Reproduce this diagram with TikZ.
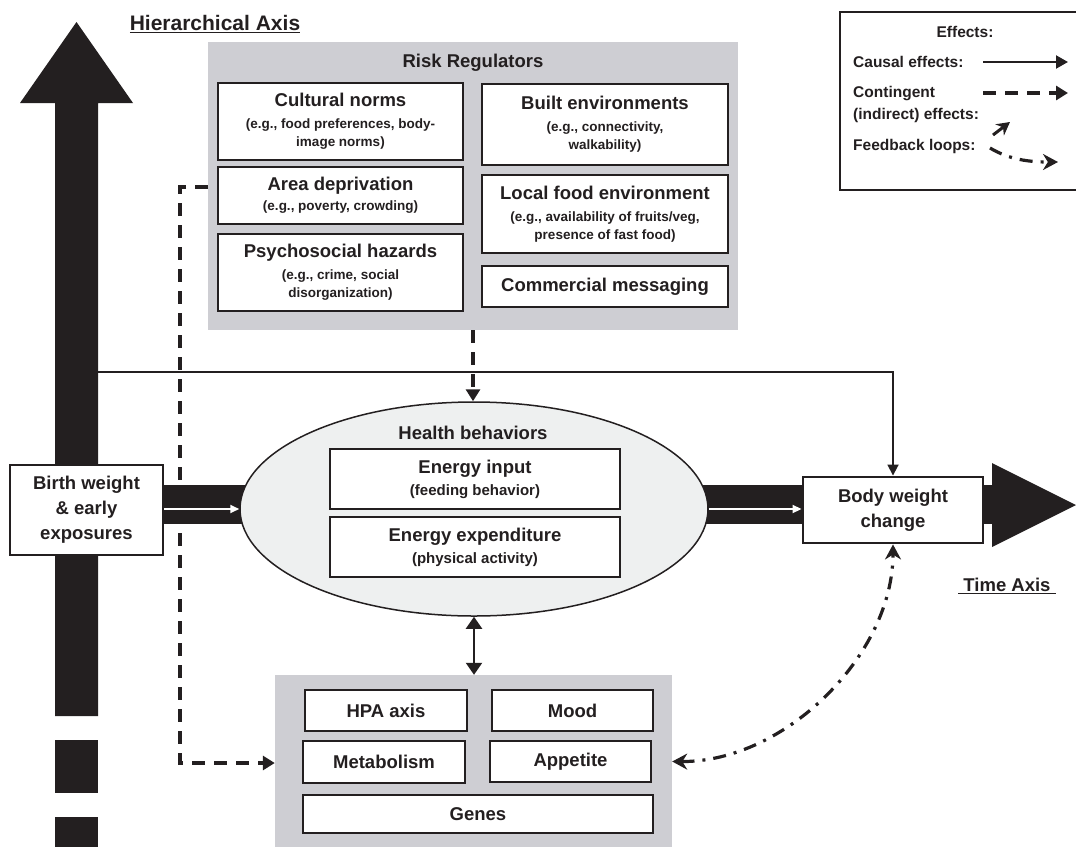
\documentclass[tikz,border=0pt]{standalone}
\usepackage{fontspec}
\setmainfont{Liberation Sans}
\usetikzlibrary{arrows.meta,shapes.geometric}
\definecolor{axisblack}{RGB}{35,31,32}
\definecolor{regulgray}{RGB}{206,206,211}
\definecolor{behavfill}{RGB}{238,240,240}
\newcommand{\boxtitle}[1]{{\fontsize{18.5}{20}\selectfont #1}}
\tikzset{
  factorbox/.style={draw=axisblack, line width=2.9pt, fill=white, align=center, inner sep=0pt, text=axisblack, font=\bfseries\fontsize{13.5}{18}\selectfont},
  graypanel/.style={fill=regulgray, inner sep=0pt},
  textlabel/.style={inner sep=0pt, text=axisblack, font=\bfseries\fontsize{18.5}{25}\selectfont},
  legendtext/.style={inner sep=0pt, text=axisblack, align=left, font=\bfseries\fontsize{15.5}{22}\selectfont},
  causal/.style={draw=axisblack, line width=1.8pt, -{Triangle[length=11pt,width=11pt]}},
  contingent/.style={draw=axisblack, line width=3.2pt, dash pattern=on 13pt off 9pt, -{Triangle[length=12pt,width=14pt]}},
  feedback/.style={draw=axisblack, line width=3.2pt, dash pattern=on 13pt off 8pt on 3pt off 8pt, -{Stealth[length=15pt,width=16pt]}}
}
\begin{document}
\begin{tikzpicture}[x=1pt,y=-1pt]
    \useasboundingbox (0,0) rectangle (1076,846);
    \node[graypanel, minimum width=530pt, minimum height=288pt] (rr) at (473,186) {};
    \node[graypanel, minimum width=397pt, minimum height=180pt] (bio) at (473.5,765) {};
    \fill[axisblack] (55,716) -- (55,103) -- (20,103) -- (76.5,22) -- (133,103) -- (98,103) -- (98,716) -- cycle;
    \fill[axisblack] (55,740) rectangle (98,793);
    \fill[axisblack] (55,817) rectangle (98,852);
    \fill[axisblack] (150,485) rectangle (300,524);
    \fill[axisblack] (650,485) rectangle (810,524);
    \fill[axisblack] (975,485) rectangle (995,524);
    \fill[axisblack] (992,463) -- (1076,505) -- (992,547) -- cycle;
    \node[draw=axisblack, line width=1.5pt, fill=behavfill, ellipse, minimum width=468pt, minimum height=214pt, inner sep=0pt] (hb) at (474,509) {};

    \node[textlabel, font=\bfseries\fontsize{21}{24}\selectfont] (hiertitle) at (215,24) {\underline{Hierarchical Axis}};
    \node[textlabel] (rrtitle) at (473,63) {Risk Regulators};
    \node[factorbox, minimum width=245pt, minimum height=77pt] (cult) at (340.5,121.5) {\boxtitle{Cultural norms}\\[4pt](e.g., food preferences, body-\\image norms)};
    \node[factorbox, minimum width=245pt, minimum height=57pt] (area) at (340.5,195.5) {\boxtitle{Area deprivation}\\[2pt](e.g., poverty, crowding)};
    \node[factorbox, minimum width=245pt, minimum height=77pt] (psych) at (340.5,272.5) {\boxtitle{Psychosocial hazards}\\[4pt](e.g., crime, social\\disorganization)};
    \node[factorbox, minimum width=246pt, minimum height=81pt] (built) at (605,124.5) {\boxtitle{Built environments}\\[4pt](e.g., connectivity,\\walkability)};
    \node[factorbox, minimum width=246pt, minimum height=78pt] (food) at (605,214) {\boxtitle{Local food environment}\\[4pt](e.g., availability of fruits/veg,\\presence of fast food)};
    \node[factorbox, minimum width=246pt, minimum height=41pt] (comm) at (605,286.5) {\boxtitle{Commercial messaging}};

    \node[factorbox, minimum width=153pt, minimum height=90pt, font=\bfseries\fontsize{18.5}{25}\selectfont] (birth) at (86.5,510) {Birth weight\\\& early\\exposures};
    \node[factorbox, minimum width=180pt, minimum height=66pt, font=\bfseries\fontsize{18.5}{25}\selectfont] (body) at (893,510) {Body weight\\change};
    \node[textlabel] (hbtitle) at (473,433) {Health behaviors};
    \node[factorbox, minimum width=290pt, minimum height=60pt, font=\bfseries\fontsize{15}{19}\selectfont] (input) at (475,479) {\boxtitle{Energy input}\\[3pt](feeding behavior)};
    \node[factorbox, minimum width=290pt, minimum height=60pt, font=\bfseries\fontsize{15}{19}\selectfont] (expend) at (475,547) {\boxtitle{Energy expenditure}\\[3pt](physical activity)};
    \node[textlabel] (timetitle) at (1007,586) {\underline{\ Time Axis\ }};

    \node[factorbox, minimum width=162pt, minimum height=41pt] (hpa) at (386,710.5) {\boxtitle{HPA axis}};
    \node[factorbox, minimum width=161pt, minimum height=41pt] (mood) at (572.5,710.5) {\boxtitle{Mood}};
    \node[factorbox, minimum width=162pt, minimum height=42pt] (metab) at (384,762) {\boxtitle{Metabolism}};
    \node[factorbox, minimum width=161pt, minimum height=41pt] (appet) at (570.5,761.5) {\boxtitle{Appetite}};
    \node[factorbox, minimum width=350pt, minimum height=38pt] (genes) at (478,814) {\boxtitle{Genes}};

    \draw[white, line width=1.8pt, -{Triangle[length=9pt,width=8pt]}] (birth.east |- hb.west) -- (hb.west);
    \draw[white, line width=1.8pt, -{Triangle[length=9pt,width=8pt]}] (hb.east) -- (body.west |- hb.east);
    \coordinate (hiertap) at (98,372);
    \draw[causal] (hiertap) -| (body.north);
    \draw[contingent] (rr.south) -- (rr.south |- hb.north);
    \coordinate (rrtap) at (208,187);
    \coordinate (bend) at (180,763);
    \draw[contingent] (rrtap) -- (rrtap -| bend) -- (bend) -- (bend -| bio.west);
    \draw[causal, line width=2.2pt, {Triangle[length=12pt,width=16pt]}-{Triangle[length=12pt,width=16pt]}] (hb.south) -- (hb.south |- bio.north);
    \draw[feedback, {Stealth[length=15pt,width=16pt]}-{Stealth[length=15pt,width=16pt]}] (bio.east |- appet.east) .. controls (785,762) and (893,655) .. (body.south);

    \draw[axisblack, line width=1.8pt] (840,12) rectangle (1090,190);
    \node[legendtext] (effhead) at (965,32) {Effects:};
    \node[legendtext, anchor=west] (causlab) at (853,62) {Causal effects:};
    \node[legendtext, anchor=west] (contlab) at (853,104) {Contingent\\(indirect) effects:};
    \node[legendtext, anchor=west] (feedlab) at (853,146) {Feedback loops:};
    \draw[causal, line width=2.2pt, -{Triangle[length=12pt,width=13pt]}] (983,62) -- (1068,62);
    \draw[contingent] (983,93) -- (1068,93);
    \draw[causal, line width=3pt, -{Stealth[length=13pt,width=14pt]}] (993,135) -- (1010,122);
    \draw[feedback] (990,148) .. controls (1010,160) and (1030,162) .. (1058,162);
\end{tikzpicture}
\end{document}
